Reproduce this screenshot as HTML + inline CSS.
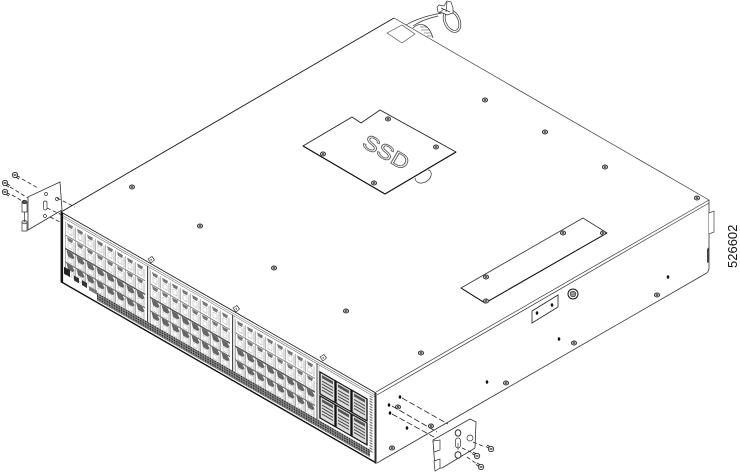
<!DOCTYPE html>
<html>
<head>
<meta charset="utf-8">
<style>
html,body{margin:0;padding:0;background:#fff;width:740px;height:472px;overflow:hidden}
svg{display:block;filter:blur(.25px)}
text{font-family:"Liberation Sans",sans-serif}
</style>
</head>
<body>
<svg width="740" height="472" viewBox="0 0 740 472" xmlns="http://www.w3.org/2000/svg">
<defs>
  <g id="scr"><ellipse rx="2.600" ry="2" fill="#bbb" stroke="#333" stroke-width=".9"/><ellipse rx="1" ry=".8" fill="#222"/></g>
  <g id="dot"><ellipse rx="1.300" ry="1.800" fill="#111"/></g>
  <g id="bolt" fill="#fff" stroke="#222" stroke-width=".8">
    <path d="M1.500 .5 5 2.500M.5 2 4 4" stroke-width=".9"/>
    <circle r="2.700"/><path d="M-1.500-1 1.500 1M-1.500 1 1.500-1" stroke-width=".6"/>
  </g>
  <g id="boltR" fill="#fff" stroke="#222" stroke-width=".8">
    <path d="M-1.500-.5-5-2.500M-.5-2-4-4" stroke-width=".9"/>
    <circle r="2.700"/><path d="M-1.500-1 1.500 1M-1.500 1 1.500-1" stroke-width=".6"/>
  </g>
  <g id="pA">
    <path d="M.5 0V12.500M9 2V12" stroke="#888" stroke-width=".6"/>
    <path d="M2 .5h6l-1 3.500H3z" fill="#777"/>
    <path d="M3 5.500h4v5H3z" fill="#fff" stroke="#aaa" stroke-width=".5"/>
  </g>
  <g id="pB">
    <path d="M.5 0V12.500M9 2V12" stroke="#777" stroke-width=".6"/>
    <path d="M1.500 0h6l2 3-2 2.500H3z" fill="#666"/>
    <path d="M3 6.500h4v4.500H3z" fill="#fff" stroke="#aaa" stroke-width=".5"/>
  </g>
  <g id="rA"><use href="#pA"/><use href="#pA" x="10"/><use href="#pA" x="20"/><use href="#pA" x="30"/><use href="#pA" x="40"/><use href="#pA" x="50"/><use href="#pA" x="60"/><use href="#pA" x="70"/></g>
  <g id="rB"><use href="#pB"/><use href="#pB" x="10"/><use href="#pB" x="20"/><use href="#pB" x="30"/><use href="#pB" x="40"/><use href="#pB" x="50"/><use href="#pB" x="60"/><use href="#pB" x="70"/></g>
  <g id="sec">
    <use href="#rA" y="7"/><use href="#rA" y="21"/><use href="#rB" y="35"/><use href="#rB" y="48"/>
    <path d="M0 20.500h80" stroke="#777" stroke-width="1"/>
    <path d="M0 34h80" stroke="#555" stroke-width="1.600"/>
    <path d="M0 47.500h80" stroke="#666" stroke-width="1.200"/>
  </g>
  <g id="q">
    <rect x="0" y="0" width="15" height="22" fill="#ddd" stroke="#111" stroke-width="1.300"/>
    <rect x="2" y="2" width="11" height="3" fill="#555"/>
    <path d="M2 8h11M2 11h11M2 14h11M2 17h11" stroke="#444" stroke-width="1.100"/>
  </g>
  <pattern id="hat" width="2.400" height="2.400" patternUnits="userSpaceOnUse"><rect width="2.400" height="2.400" fill="#888"/><rect width="1.300" height="1.300" fill="#222"/></pattern>
  <pattern id="dots" width="4" height="2.600" patternUnits="userSpaceOnUse"><rect x=".5" y=".5" width="3" height="1.400" fill="#777"/></pattern>
  <g id="tab"><path d="M-3-1 1-3.500 3.500 0 0 3Z" fill="#fff" stroke="#333" stroke-width=".7"/><circle cx=".3" cy="-.2" r=".8" fill="#555"/></g>
</defs>

<rect width="740" height="472" fill="#fff"/>

<!-- cable and clamp behind chassis -->
<g fill="none" stroke="#333" stroke-width=".7">
  <path d="M406 25C418 18 430 15 442 13M413 26C422 20 430 18 438 16"/>
  <path d="M413 28C418 23 428 21 433 38" />
  <path d="M420 27h7M421 30h9M424 33h7M427 36h5" stroke-width=".5"/>
  <ellipse cx="452" cy="21" rx="8" ry="12" transform="rotate(-25 452 21)"/>
  <ellipse cx="452" cy="21" rx="6" ry="10" transform="rotate(-25 452 21)"/>
  <path d="M439 5l5 1 3-5 4 1 2 6 0 5-6 2-4-2-5-1-1-5z" fill="#fff"/>
  <path d="M441 8l9 4M447 2l-1 10M439 13l5-4"/>
</g>

<!-- chassis top -->
<path d="M61 212 394 18 709 200 376 393Z" fill="#fff"/>
<path d="M61 212 394 18" fill="none" stroke="#111" stroke-width=".9"/>
<path d="M394 18 709 200" fill="none" stroke="#333" stroke-width=".7"/>
<path d="M387 33 402 25 415 34 402 43Z" fill="#fff" stroke="#444" stroke-width=".6"/>

<!-- side face -->
<path d="M376 393 709 200V272L377 463Z" fill="#fff"/>
<path d="M376 392 709 200M377 395 709 203" fill="none" stroke="#333" stroke-width=".7"/>
<path d="M377 463 705 274Q709 272 709 268V200" fill="none" stroke="#333" stroke-width=".8"/>
<path d="M709 213 714 211V232L709 234" fill="#fff" stroke="#444" stroke-width=".7"/>
<path d="M707 249 709 247V262L707 263Z" fill="#444"/>
<path d="M532 311 558 295V307L532 323Z" fill="#fff" stroke="#222" stroke-width=".8"/>
<use href="#dot" x="537" y="313"/><use href="#dot" x="552" y="305"/>
<circle cx="573" cy="294" r="5" fill="#fff" stroke="#111" stroke-width="1"/>
<circle cx="573" cy="294" r="2.800" fill="#999" stroke="#222" stroke-width=".6"/>
<use href="#dot" x="668" y="277"/><use href="#scr" x="657" y="295"/>
<use href="#dot" x="559" y="339"/><use href="#scr" x="574" y="343"/>
<use href="#dot" x="487" y="382"/><use href="#scr" x="506" y="383"/>
<use href="#dot" x="407" y="428"/><use href="#scr" x="431" y="426"/><use href="#scr" x="392" y="448"/>
<use href="#dot" x="400" y="397"/><use href="#dot" x="389" y="405"/><use href="#dot" x="390" y="413"/>
<use href="#scr" x="398" y="407"/>

<!-- front face -->
<g transform="matrix(1 .575 0 1 61 212)">
  <rect x="0" y="0" width="315" height="70" fill="#fff" stroke="#111" stroke-width=".9"/>
  <path d="M0 2.500H315M0 4.500H315" stroke="#555" stroke-width=".6"/>
  <use href="#sec" x="4"/>
  <use href="#sec" x="89"/>
  <use href="#sec" x="174"/>
  <path d="M86.500 4V66M171.500 4V66M256 4V66" stroke="#333" stroke-width=".9"/>
  <path d="M88 4V66M173 4V66M258 4V66" stroke="#888" stroke-width=".5"/>
  <rect x="36" y="60" width="273" height="7.500" fill="url(#hat)"/>
  <rect x="3" y="53" width="6" height="7" fill="#222"/>
  <rect x="13" y="56" width="5" height="5" fill="#333"/>
  <rect x="21" y="56" width="5" height="5" fill="#333"/>
  <rect x="28" y="58" width="8" height="4" fill="#777"/>
  <g transform="translate(259 11)"><use href="#q"/><use href="#q" x="16"/><use href="#q" x="32"/><use href="#q" y="24"/><use href="#q" x="16" y="24"/><use href="#q" x="32" y="24"/></g>
  <rect x="308" y="6" width="4" height="56" fill="url(#dots)"/>
  <path d="M1.200 0V70" stroke="#111" stroke-width="1.800"/>
  <path d="M0 69.600H315" stroke="#111" stroke-width="1.400"/>
  <path d="M314 0V71" stroke="#333" stroke-width="1"/>
</g>
<use href="#tab" x="151" y="260"/><use href="#tab" x="236" y="309"/><use href="#tab" x="323" y="358"/>

<!-- top screws -->
<use href="#scr" x="132" y="187"/><use href="#scr" x="200" y="226"/><use href="#scr" x="274" y="268"/>
<use href="#scr" x="346" y="311"/><use href="#scr" x="421" y="353"/>
<use href="#scr" x="485" y="100"/><use href="#scr" x="545" y="132"/><use href="#scr" x="605" y="167"/><use href="#scr" x="697" y="198"/>

<!-- SSD plate -->
<path d="M415 178C416 186 428 184 431 176C432 172 430 170 428 170" fill="#fff" stroke="#333" stroke-width=".7"/>
<path d="M303 146 352 117 361 123 380 110 456 152 385 194Z" fill="#fff" stroke="#222" stroke-width=".9" stroke-linejoin="round"/>
<path d="M303 146 385 194 456 152" fill="none" stroke="#111" stroke-width="1.100"/>
<use href="#scr" x="388" y="119"/><use href="#scr" x="436" y="147"/><use href="#scr" x="323" y="154"/><use href="#scr" x="374" y="183"/>
<text transform="matrix(1 .575 -.5 .85 361 146)" font-size="21" fill="#fff" stroke="#666" stroke-width=".9">SSD</text>

<!-- long plate -->
<path d="M461 288 583 218 607 233 485 303Z" fill="#fff" stroke="#333" stroke-width=".8" stroke-linejoin="round"/>
<path d="M461 288 485 303 607 233" fill="none" stroke="#111" stroke-width="1"/>
<use href="#scr" x="486" y="277"/><use href="#scr" x="563" y="233"/><use href="#scr" x="603" y="233"/><use href="#scr" x="486" y="301"/>

<!-- left bracket -->
<path d="M28 198 Q27 197 30 196 L60 182 62 210 28 230Z" fill="#fff" stroke="#333" stroke-width=".8"/>
<g fill="#fff" stroke="#333" stroke-width=".7">
  <path d="M22 202h5v10h-5z"/><ellipse cx="24.500" cy="202" rx="2.500" ry="1.800" fill="#555"/>
  <path d="M22 222h5v9h-5z"/><ellipse cx="24.500" cy="222" rx="2.500" ry="1.800" fill="#ccc"/>
  <path d="M24.500 212V222" stroke-width=".7"/>
  <circle cx="46" cy="194" r="1.500"/><rect x="43.500" y="201" width="3.500" height="9" rx="1.700"/><circle cx="45" cy="216" r="1.500"/><circle cx="57" cy="199" r="1.500"/>
</g>
<g fill="none" stroke="#222" stroke-width=".8" stroke-dasharray="4 2.500">
  <path d="M22 179 38 188M10 187 28 198M12 195 24 202M57 198 75 207M47 208 62 215M50 217 60 222"/>
</g>
<use href="#bolt" x="15" y="175"/><use href="#bolt" x="5" y="183"/><use href="#bolt" x="5" y="192"/>

<!-- right bracket -->
<g fill="none" stroke="#222" stroke-width=".8" stroke-dasharray="6 2.500">
  <path d="M402 398 448 424M392 406 437 432M392 414 434 437"/>
</g>
<path d="M433 440 470 419 476 422 475 448 442 468 435 468Z" fill="#fff" stroke="#333" stroke-width=".8" stroke-linejoin="round"/>
<g fill="#fff" stroke="#333" stroke-width=".7">
  <path d="M433 441 440 440V450L434 452ZM434 461 440 459V468L435 471Z"/>
  <ellipse cx="458" cy="433" rx="2.800" ry="3.200" stroke-width="1"/><rect x="455.500" y="438" width="5" height="10" rx="2.500"/><ellipse cx="458" cy="455" rx="3" ry="3.200" stroke-width="1"/><circle cx="470" cy="438" r="3"/>
  <path d="M458 443V450" stroke-width=".7"/>
</g>
<path d="M473 442 485 447M462 448 473 453M467 457 477 464" fill="none" stroke="#222" stroke-width=".8" stroke-dasharray="4 2.500"/>
<use href="#boltR" x="491" y="449"/><use href="#boltR" x="477" y="456"/><use href="#boltR" x="481" y="467"/>

<text transform="translate(737 268) rotate(-90)" font-size="13" fill="#111">526602</text>
</svg>
</body>
</html>
